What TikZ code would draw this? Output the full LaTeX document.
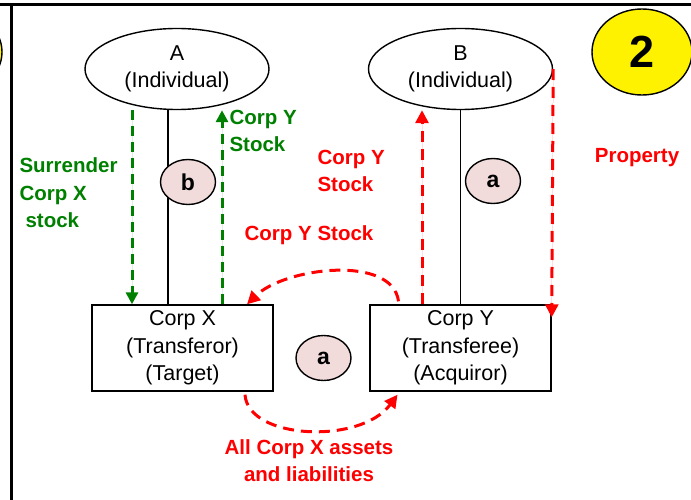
\documentclass[tikz,border=0pt]{standalone}
\usepackage{fontspec}
\setmainfont{Liberation Sans}
\usepackage{xcolor}
\usetikzlibrary{positioning,shapes.geometric,arrows.meta}
\definecolor{dkgreen}{RGB}{0,128,0}
\definecolor{tagpink}{RGB}{242,220,219}

\tikzset{
    party/.style={ellipse,draw,line width=1.4pt,minimum width=184pt,minimum height=81pt,inner sep=0pt,align=center,font=\fontsize{21.5}{27}\selectfont},
    corp/.style={rectangle,draw,line width=1.4pt,minimum width=181pt,minimum height=86pt,inner sep=0pt,align=center,font=\fontsize{21.5}{27.5}\selectfont},
    tag/.style={ellipse,draw,line width=1.4pt,fill=tagpink,minimum width=55pt,minimum height=45pt,inner sep=0pt,font=\fontsize{23}{26}\selectfont\bfseries},
    glabel/.style={text=dkgreen,align=left,font=\fontsize{20.5}{27.5}\selectfont\bfseries},
    rlabel/.style={text=red,align=left,font=\fontsize{20.5}{27}\selectfont\bfseries},
    gflow/.style={draw=dkgreen,line width=3pt,dash pattern=on 10pt off 6pt,-{Triangle[length=12pt,width=12pt]},fill=dkgreen},
    rflow/.style={draw=red,line width=3pt,dash pattern=on 11pt off 7pt,-{Triangle[length=13pt,width=13pt]},fill=red},
    plain/.style={draw,line width=1.3pt}
}

\begin{document}
\begin{tikzpicture}[x=1pt,y=-1pt]
            \useasboundingbox (0,0) rectangle (691,500);

            % frame of the slide
            \draw[line width=3pt] (0,5) -- (691,5);
            \draw[line width=3pt] (11,5) -- (11,500);
            \node[ellipse,draw,line width=1.4pt,fill=yellow,minimum width=100pt,minimum height=86pt] (prev) at (-48,52){};
            \node[ellipse,draw,line width=1.4pt,fill=yellow,minimum width=100pt,minimum height=86pt,inner sep=0pt,font=\fontsize{45}{45}\selectfont\bfseries] (num) at (642,52){2};

            \node[party] (A) at (177,69){A\\(Individual)};
            \node[party] (B) at (460.5,69){B\\(Individual)};
            \node[corp] (xbox) at (182.5,348){Corp X\\(Transferor)\\(Target)};
            \node[corp] (ybox) at (460.5,348){Corp Y\\(Transferee)\\(Acquiror)};

            \coordinate (lA) at (168,0);
            \coordinate (gdn) at (132,0);
            \coordinate (gup) at (222,0);
            \coordinate (rup) at (422,0);

            \draw[plain] (A.south -| lA) -- (xbox.north -| lA);
            \draw[plain] (B) -- (ybox);

            \node[tag] (tb) at (188,182){b};
            \node[tag] (ta) at (493,181){a};
            \node[tag] (tm) at (323.5,358){a};

            \draw[gflow] (A.south -| gdn) -- (xbox.north -| gdn);
            \draw[gflow] (xbox.north -| gup) -- (A.south -| gup);
            \draw[rflow] (ybox.north -| rup) -- (B.south -| rup);
            \draw[rflow] (B.east) -- ([yshift=-13pt]ybox.north east);

            \draw[rflow,fill=none] ([xshift=-62pt,yshift=3pt]ybox.north) .. controls +(-6,-47) and +(38,-37) .. ([xshift=64.5pt]xbox.north);
            \draw[rflow,fill=none] ([xshift=62.5pt,yshift=-3pt]xbox.south) .. controls +(3,45) and +(-37,50) .. ([xshift=-63pt,yshift=-3pt]ybox.south);

            \node[glabel,anchor=west] (gstock) at (226,131){Corp Y\\Stock};
            \node[glabel,anchor=west] (surr) at (16,193){Surrender\\Corp X\\\hspace*{6pt}stock};
            \node[rlabel,anchor=west] (rstock) at (314,171){Corp Y\\Stock};
            \node[rlabel] (rstock2) at (309,235){Corp Y Stock};
            \node[rlabel] (prop) at (637,158){Property};
            \node[rlabel,align=center] (assets) at (309,461){All Corp X assets\\and liabilities};
        \end{tikzpicture}
\end{document}
